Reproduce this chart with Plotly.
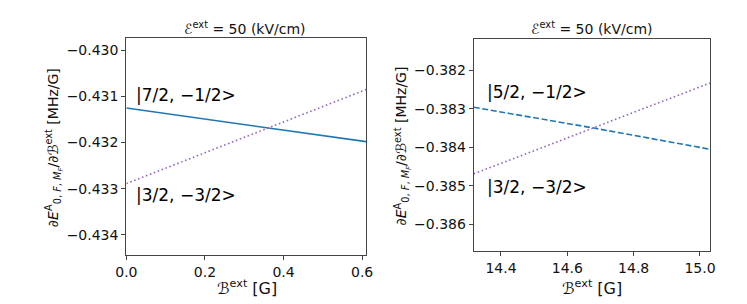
import plotly.graph_objects as go

# ---- data ----
b_left = [0.0, 0.37, 0.61]
solid_72 = [-0.43125, -0.43169, -0.43198]
dot_32_left = [-0.43289, -0.43166, -0.43085]

b_right = [14.318, 14.68, 15.03]
dash_52 = [-0.38296, -0.38350, -0.38405]
dot_32_right = [-0.38469, -0.38350, -0.38233]

title_text = "ℰ<sup>ext</sup> = 50 (kV/cm)"
xlabel = "<i>ℬ</i><sup>ext</sup> [G]"
ylabel = "∂<i>E</i><sup>A</sup><sub>0, <i>F</i>, <i>M<sub>F</sub></i></sub>/∂<i>ℬ</i><sup>ext</sup> [MHz/G]"

left_labels = ["|7/2, −1/2>", "|3/2, −3/2>"]
left_label_pos = [(0.02, -0.43097), (0.02, -0.43314)]
right_labels = ["|5/2, −1/2>", "|3/2, −3/2>"]
right_label_pos = [(14.351, -0.38255), (14.351, -0.38502)]

BLUE = "#1f77b4"
PURPLE = "#9467bd"
FONT = "DejaVu Sans"
FRAME = "#444444"

W, H = 747, 304
def fx(px):
    return px / W
def fy(py):
    return 1 - py / H

fig = go.Figure()
fig.add_trace(go.Scatter(x=b_left, y=solid_72, mode="lines",
                         line=dict(color=BLUE, width=1.6), xaxis="x", yaxis="y"))
fig.add_trace(go.Scatter(x=b_left, y=dot_32_left, mode="lines",
                         line=dict(color=PURPLE, width=1.6, dash="1.6px,2.6px"), xaxis="x", yaxis="y"))
fig.add_trace(go.Scatter(x=b_right, y=dash_52, mode="lines",
                         line=dict(color=BLUE, width=1.6, dash="6px,2.6px"), xaxis="x2", yaxis="y2"))
fig.add_trace(go.Scatter(x=b_right, y=dot_32_right, mode="lines",
                         line=dict(color=PURPLE, width=1.6, dash="1.6px,2.6px"), xaxis="x2", yaxis="y2"))

axis_common = dict(showgrid=False, zeroline=False, showline=True, mirror=True,
                   linecolor=FRAME, linewidth=1.2, ticks="outside", ticklen=4,
                   tickcolor=FRAME, tickwidth=1,
                   tickfont=dict(family=FONT, size=14, color="#111"))

fig.update_layout(
    width=W, height=H, margin=dict(l=0, r=0, t=0, b=0),
    paper_bgcolor="white", plot_bgcolor="white", showlegend=False,
    font=dict(family=FONT, color="#111"),
    xaxis=dict(domain=[fx(110), fx(356)], range=[0, 0.611], dtick=0.2, tickformat=".1f",
               anchor="y", **axis_common),
    yaxis=dict(domain=[fy(247), fy(30)], range=[-0.43444, -0.42973], dtick=0.001,
               tickformat=".3f", anchor="x", **axis_common),
    xaxis2=dict(domain=[fx(466), fx(708)], range=[14.318, 15.03], dtick=0.2, tickformat=".1f",
                anchor="y2", **axis_common),
    yaxis2=dict(domain=[fy(243), fy(31)], range=[-0.386695, -0.381185], dtick=0.001,
                tickformat=".3f", anchor="x2", **axis_common),
)

ann = []
# titles
for cx in (232, 587):
    ann.append(dict(text=title_text, x=fx(cx), y=fy(20), xref="paper", yref="paper",
                    showarrow=False, xanchor="center", yanchor="middle",
                    font=dict(family=FONT, size=14, color="#111")))
# x labels
for cx in (234, 587):
    ann.append(dict(text=xlabel, x=fx(cx), y=fy(279), xref="paper", yref="paper",
                    showarrow=False, xanchor="center", yanchor="middle",
                    font=dict(family=FONT, size=16, color="#111")))
# y labels
for cx, cy in ((36, 140), (393, 138)):
    ann.append(dict(text=ylabel, x=fx(cx), y=fy(cy), xref="paper", yref="paper",
                    showarrow=False, textangle=-90, xanchor="center", yanchor="middle",
                    font=dict(family=FONT, size=14, color="#111")))
# state labels
for t, (x, y) in zip(left_labels, left_label_pos):
    ann.append(dict(text=t, x=x, y=y, xref="x", yref="y", showarrow=False,
                    xanchor="left", yanchor="middle",
                    font=dict(family=FONT, size=17, color="#000")))
for t, (x, y) in zip(right_labels, right_label_pos):
    ann.append(dict(text=t, x=x, y=y, xref="x2", yref="y2", showarrow=False,
                    xanchor="left", yanchor="middle",
                    font=dict(family=FONT, size=17, color="#000")))
fig.update_layout(annotations=ann)

fig.write_html("out.html")
